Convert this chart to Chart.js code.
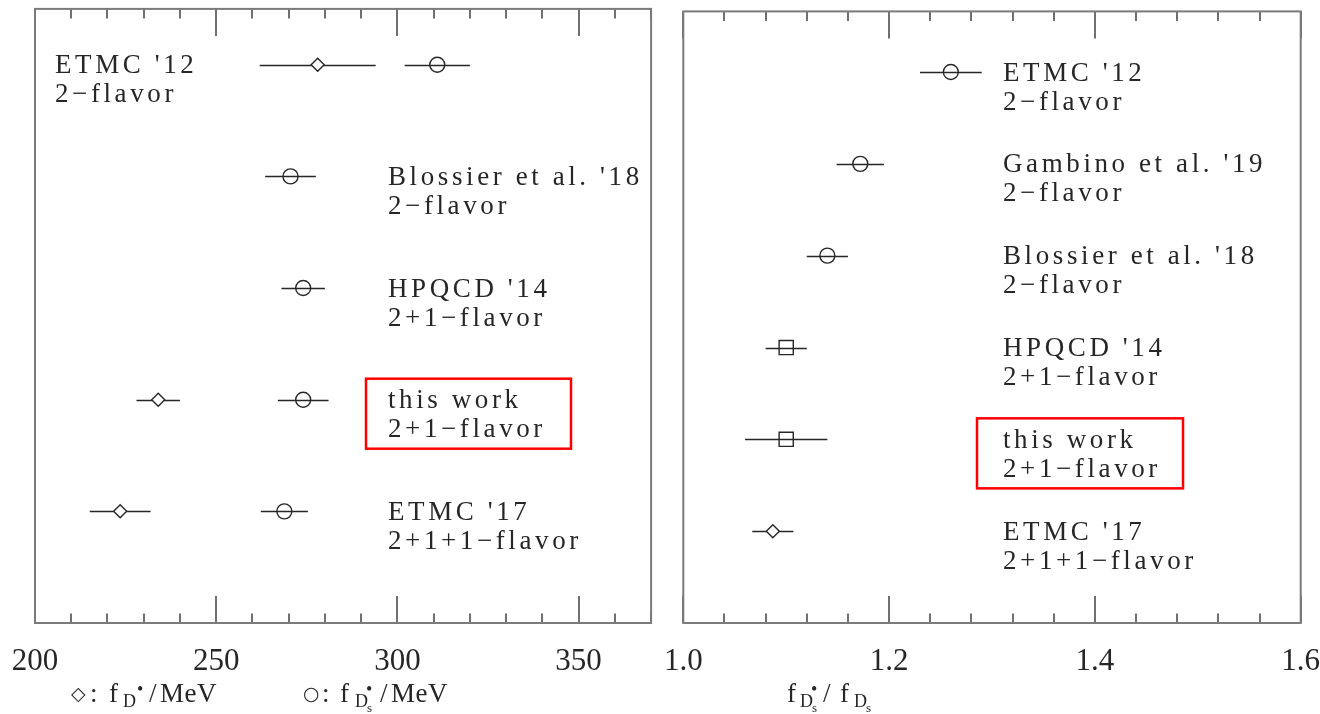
<!DOCTYPE html>
<html>
<head>
<meta charset="utf-8">
<title>Vector-meson decay constants</title>
<script src="https://cdn.jsdelivr.net/npm/chart.js@4.4.1/dist/chart.umd.min.js"></script>
<style>
  html, body { margin: 0; padding: 0; background: #fff; }
  #wrap { position: relative; width: 1320px; height: 714px; overflow: hidden; }
  .pane { position: absolute; top: 0; width: 660px; height: 714px; }
</style>
</head>
<body>
<div id="wrap">
  <div class="pane" style="left:0"><canvas id="left" width="660" height="714"></canvas></div>
  <div class="pane" style="left:660px"><canvas id="right" width="660" height="714"></canvas></div>
</div>
<script>
const SERIF = "'Liberation Serif', 'Times New Roman', serif";
const INK = '#262626';

// ---- left panel: f_D* and f_Ds* in MeV ----
const leftNames   = ["ETMC '12", "Blossier et al. '18", "HPQCD '14", "this work", "ETMC '17"];
const leftFlavors = ["2\u2212flavor", "2\u2212flavor", "2+1\u2212flavor", "2+1\u2212flavor", "2+1+1\u2212flavor"];
const fDstar      = [278, null, null, 234, 223.5];
const fDstarErr   = [16, null, null, 6, 8.4];
const fDsStar     = [311, 270.5, 274, 274, 268.8];
const fDsStarErr  = [9, 7, 6, 7, 6.5];
const leftMajorTicks = [200, 250, 300, 350];

// ---- right panel: f_Ds* / f_Ds ----
const rightNames   = ["ETMC '12", "Gambino et al. '19", "Blossier et al. '18", "HPQCD '14", "this work", "ETMC '17"];
const rightFlavors = ["2\u2212flavor", "2\u2212flavor", "2\u2212flavor", "2+1\u2212flavor", "2+1\u2212flavor", "2+1+1\u2212flavor"];
const ratio        = [1.26, 1.172, 1.14, 1.10, 1.10, 1.087];
const ratioErr     = [0.03, 0.023, 0.02, 0.02, 0.04, 0.02];
const ratioMarker  = ['circle', 'circle', 'circle', 'rect', 'rect', 'rectRot'];
const rightMajorTicks = [1.0, 1.2, 1.4, 1.6];

const highlightRow = "this work";

function toPoints(vals, errs) {
  const pts = [], es = [];
  vals.forEach((v, i) => {
    if (v !== null) { pts.push({ x: v, y: i }); es.push(errs[i]); }
  });
  return { pts, es };
}

const markerRadius = { circle: 7.5, rect: 10, rectRot: 6.5 };
const markerFill   = { circle: 'rgba(0,0,0,0)', rect: 'rgba(0,0,0,0)', rectRot: '#ffffff' };

function isMajor(v, majors) {
  return majors.some(m => Math.abs(m - v) < 1e-6);
}

// draws text pieces, each at its own x and vertical offset from a shared baseline
function drawPieces(ctx, baseY, pieces) {
  pieces.forEach(p => {
    ctx.font = `${p.size}px ${p.family || SERIF}`;
    ctx.letterSpacing = p.ls || '0px';
    ctx.fillText(p.t, p.x, baseY + (p.dy || 0));
  });
}

function panelPlugin(cfg) {
  return {
    id: 'panel',
    beforeDatasetsDraw(chart) {
      const { ctx, scales: { x, y } } = chart;
      ctx.save();
      ctx.strokeStyle = INK;
      ctx.lineWidth = 1.5;
      chart.data.datasets.forEach(ds => {
        ds.data.forEach((p, i) => {
          const e = ds.errors[i];
          const yy = Math.round(y.getPixelForValue(p.y)) + 0.5;
          ctx.beginPath();
          ctx.moveTo(x.getPixelForValue(p.x - e), yy);
          ctx.lineTo(x.getPixelForValue(p.x + e), yy);
          ctx.stroke();
        });
      });
      ctx.restore();
    },
    afterDraw(chart) {
      const { ctx, chartArea: a, scales: { x, y } } = chart;
      ctx.save();

      // inward ticks on bottom and top edges
      ctx.strokeStyle = '#4d4d4d';
      ctx.lineWidth = 1.6;
      x.ticks.forEach(t => {
        const px = Math.round(x.getPixelForValue(t.value));
        const len = isMajor(t.value, cfg.majors) ? 27 : 9.5;
        ctx.beginPath();
        ctx.moveTo(px, a.bottom); ctx.lineTo(px, a.bottom - len);
        ctx.moveTo(px, a.top);    ctx.lineTo(px, a.top + len);
        ctx.stroke();
      });

      // frame
      ctx.strokeStyle = '#7b7b7b';
      ctx.lineWidth = 2;
      ctx.strokeRect(a.left, a.top, a.right - a.left, a.bottom - a.top);

      // entry labels
      ctx.fillStyle = INK;
      ctx.textBaseline = 'alphabetic';
      ctx.textAlign = 'left';
      ctx.font = `27px ${SERIF}`;
      ctx.letterSpacing = '3.6px';
      cfg.names.forEach((name, i) => {
        const yy = y.getPixelForValue(i);
        const lx = cfg.labelX(i);
        ctx.fillText(name, lx, yy + 8.5);
        ctx.fillText(cfg.flavors[i], lx, yy + 37.5);
        if (name === highlightRow) {
          ctx.save();
          ctx.strokeStyle = '#ff0000';
          ctx.lineWidth = 2.5;
          ctx.strokeRect(cfg.box[0], yy - 21, cfg.box[1] - cfg.box[0], 70);
          ctx.restore();
        }
      });

      // axis title text
      ctx.fillStyle = INK;
      cfg.titles.forEach(pieces => drawPieces(ctx, 702, pieces));
      ctx.restore();
    }
  };
}

function makeChart(id, datasets, opts) {
  return new Chart(document.getElementById(id), {
    type: 'scatter',
    data: { datasets },
    options: {
      responsive: false,
      devicePixelRatio: 1,
      animation: false,
      events: [],
      layout: { padding: opts.padding },
      plugins: { legend: { display: false }, tooltip: { enabled: false } },
      scales: {
        x: {
          type: 'linear',
          min: opts.xMin, max: opts.xMax,
          grid: { display: false, drawTicks: false },
          border: { display: false },
          ticks: {
            stepSize: opts.step,
            autoSkip: false,
            maxRotation: 0,
            padding: 20,
            color: INK,
            font: { family: SERIF, size: 31 },
            callback: v => isMajor(v, opts.majors) ? opts.fmt(v) : ''
          },
          afterFit(s) { s.height = 91; s.paddingLeft = 0; s.paddingRight = 0; }
        },
        y: { type: 'linear', display: false, reverse: true, min: opts.yMin, max: opts.yMax }
      }
    },
    plugins: [panelPlugin(opts)]
  });
}

const SYM = "'DejaVu Sans', sans-serif";

// ---- build left panel ----
const dStar = toPoints(fDstar, fDstarErr);
const dsStar = toPoints(fDsStar, fDsStarErr);
makeChart('left', [
  {
    data: dStar.pts, errors: dStar.es,
    pointStyle: 'rectRot', pointRadius: markerRadius.rectRot,
    borderColor: INK, backgroundColor: markerFill.rectRot, borderWidth: 1.4
  },
  {
    data: dsStar.pts, errors: dsStar.es,
    pointStyle: 'circle', pointRadius: markerRadius.circle,
    borderColor: INK, backgroundColor: markerFill.circle, borderWidth: 1.4
  }
], {
  padding: { left: 35, right: 8, top: 7, bottom: 0 },
  xMin: 200, xMax: 370, step: 10, majors: leftMajorTicks,
  fmt: v => String(Math.round(v)),
  yMin: -0.5, yMax: 5,
  names: leftNames, flavors: leftFlavors,
  labelX: i => (i === 0 ? 55 : 388),
  box: [366, 571],
  titles: [
    [
      { t: '\u25C7', x: 71, size: 19, dy: -2, family: SYM },
      { t: ':', x: 90, size: 27 },
      { t: 'f', x: 109, size: 27 },
      { t: 'D', x: 123, size: 18, dy: 5 },
      { t: '\u2022', x: 137, size: 18, dy: -7 },
      { t: '/', x: 149, size: 27 },
      { t: 'MeV', x: 160, size: 27, ls: '0.5px' }
    ],
    [
      { t: '\u25CB', x: 303, size: 19, dy: -2, family: SYM },
      { t: ':', x: 322, size: 27 },
      { t: 'f', x: 340, size: 27 },
      { t: 'D', x: 355, size: 18, dy: 5 },
      { t: 's', x: 367, size: 13, dy: 10 },
      { t: '\u2022', x: 366, size: 18, dy: -7 },
      { t: '/', x: 380, size: 27 },
      { t: 'MeV', x: 391, size: 27, ls: '0.5px' }
    ]
  ]
});

// ---- build right panel ----
const rat = toPoints(ratio, ratioErr);
makeChart('right', [
  {
    data: rat.pts, errors: rat.es,
    pointStyle: ratioMarker,
    pointRadius: ratioMarker.map(m => markerRadius[m]),
    backgroundColor: ratioMarker.map(m => markerFill[m]),
    borderColor: INK, borderWidth: 1.4
  }
], {
  padding: { left: 23.3, right: 19.3, top: 7, bottom: 0 },
  xMin: 1.0, xMax: 1.6, step: 0.04, majors: rightMajorTicks,
  fmt: v => v.toFixed(1),
  yMin: -0.66, yMax: 6,
  names: rightNames, flavors: rightFlavors,
  labelX: () => 343,
  box: [317, 523],
  titles: [
    [
      { t: 'f', x: 127, size: 27 },
      { t: 'D', x: 140, size: 18, dy: 5 },
      { t: 's', x: 152, size: 13, dy: 10 },
      { t: '\u2022', x: 151, size: 18, dy: -7 },
      { t: '/', x: 163, size: 27 },
      { t: 'f', x: 180, size: 27 },
      { t: 'D', x: 194, size: 18, dy: 5 },
      { t: 's', x: 206, size: 13, dy: 10 }
    ]
  ]
});
</script>
</body>
</html>
